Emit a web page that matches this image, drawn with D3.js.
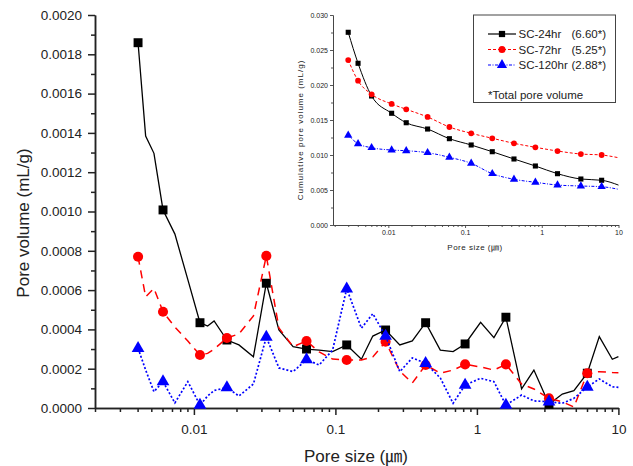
<!DOCTYPE html>
<meta charset="utf-8">
<script src="https://d3js.org/d3.v7.min.js"></script>
<style>
  body { margin: 0; background: #fff; }
  text { font-family: "Liberation Sans", Arial, "Noto Sans CJK KR", sans-serif; fill: #222; }
</style>
<div id="chart"></div>
<script>

// main plot: incremental pore volume vs pore size (um)
var poreSize = [0.00403, 0.00456, 0.00522, 0.00605, 0.00734, 0.00906, 0.01104, 0.0125, 0.01389, 0.01711,
                0.0208, 0.02634, 0.03249, 0.03988, 0.05024, 0.06249, 0.07684, 0.09555, 0.1202, 0.1527,
                0.1838, 0.2263, 0.2852, 0.3495, 0.4341, 0.5512, 0.6788, 0.8253, 1.062, 1.319,
                1.603, 2.07, 2.528, 3.232, 4.013, 4.848, 6.029, 7.328, 9.056, 10];
var vol24 = [0.001859, 0.001384, 0.001296, 0.001008, 0.000885, 0.000653, 0.000434, 0.000417, 0.000443, 0.000346,
             0.000321, 0.000261, 0.000635, 0.000397, 0.000312, 0.0003, 0.000295, 0.000287, 0.000321, 0.000248,
             0.000366, 0.000397, 0.000321, 0.000341, 0.000434, 0.000295, 0.000287, 0.000326, 0.000436, 0.000358,
             0.000462, 0.000097, 0.000193, 0.000019, 0.000071, 0.000088, 0.000177, 0.000363, 0.000248, 0.000261];
var vol72 = [0.00077, 0.000566, 0.000609, 0.00049, 0.000412, 0.000341, 0.00027, 0.000278, 0.0003, 0.000356,
             0.000377, 0.000468, 0.000774, 0.000407, 0.000312, 0.000341, 0.000285, 0.000249, 0.000244, 0.000244,
             0.00026, 0.000337, 0.000188, 0.000127, 0.000219, 0.000177, 0.000193, 0.000222, 0.000209, 0.000193,
             0.000222, 0.000122, 0.000097, 0.000049, 0.000031, 0.000005, 0.000177, 0.000185, 0.000181, 0.00018];
var vol120 = [0.000304, 0.000193, 0.000083, 0.000134, 0.000026, 0.000134, 0.000015, 0.000061, 0.000089, 0.000104,
              0.000061, 0.000122, 0.000361, 0.000204, 0.000185, 0.000246, 0.000219, 0.000295, 0.000607, 0.000406,
              0.00048, 0.000366, 0.000185, 0.000255, 0.000227, 0.000153, 0.000024, 0.000117, 0.000151, 0.000134,
              0.000015, 0.000066, 0.000036, 0.000032, 0.000024, 0.000049, 0.000107, 0.000148, 0.000108, 0.000105];
// points that carry a symbol
var markerIdx = [0, 3, 6, 9, 12, 15, 18, 21, 24, 27, 30, 33, 36];

// inset: cumulative pore volume
var cumSize = [0.003, 0.00403, 0.00605, 0.01104, 0.01711, 0.03249, 0.06249, 0.1202, 0.2263, 0.4341,
               0.8253, 1.603, 3.232, 6.029, 10];
var cum24 = [0.02753, 0.0231, 0.01843, 0.01596, 0.01461, 0.01371, 0.01233, 0.01143, 0.01047, 0.00943,
             0.00843, 0.00733, 0.00657, 0.00639, 0.0057];
var cum72 = [0.02357, 0.02061, 0.01867, 0.01729, 0.01653, 0.01543, 0.014, 0.0131, 0.01239, 0.01167,
             0.0111, 0.01057, 0.01014, 0.01, 0.00961];
var cum120 = [0.01281, 0.01161, 0.01104, 0.01071, 0.01061, 0.01033, 0.00967, 0.00881, 0.00733, 0.00653,
              0.0061, 0.00571, 0.00557, 0.00547, 0.0051];

var seriesNames = ["SC-24hr", "SC-72hr", "SC-120hr"];
var totalVol = ["(6.60*)", "(5.25*)", "(2.88*)"];
var yTicks = [0, 0.0002, 0.0004, 0.0006, 0.0008, 0.001, 0.0012, 0.0014, 0.0016, 0.0018, 0.002];
var yMinor = [0.0001, 0.0003, 0.0005, 0.0007, 0.0009, 0.0011, 0.0013, 0.0015, 0.0017, 0.0019];
var xTicks = [0.01, 0.1, 1, 10];
var cumTicks = [0, 0.005, 0.01, 0.015, 0.02, 0.025, 0.03];
var cumMinor = [0.0025, 0.0075, 0.0125, 0.0175, 0.0225, 0.0275];

var W = 633, H = 466;
var svg = d3.select("#chart").append("svg")
    .attr("width", W).attr("height", H);

var styles = [
  {color: "#000000", dash: null, width: 1.3, sym: d3.symbolSquare, size: 80, isize: 26},
  {color: "#ff0000", dash: "8,6", width: 1.5, sym: d3.symbolCircle, size: 80, isize: 26},
  {color: "#0000ff", dash: "2,2", width: 1.7, sym: d3.symbolTriangle, size: 70, isize: 30}
];

// ---------- main plot ----------
var x = d3.scaleLog().domain([0.002, 10]).range([95, 618.4]);
var y = d3.scaleLinear().domain([0, 0.002]).range([408, 15]);

var main = svg.append("g");

// axes
main.append("g").attr("transform", "translate(95,0)")
    .call(d3.axisLeft(y).tickValues(yTicks).tickFormat(d3.format(".4f")).tickSize(7).tickSizeOuter(0).tickPadding(6));
main.append("g").attr("transform", "translate(95,0)")
    .call(d3.axisLeft(y).tickValues(yMinor).tickFormat("").tickSize(4).tickSizeOuter(0));
main.append("g").attr("transform", "translate(0,408)")
    .call(d3.axisBottom(x).tickValues(xTicks).tickFormat(d => String(d)).tickSize(7).tickSizeOuter(0).tickPadding(9));
main.append("g").attr("transform", "translate(0,408)")
    .call(d3.axisBottom(x).tickValues(x.ticks().filter(d => xTicks.indexOf(d) < 0)).tickFormat("").tickSize(4).tickSizeOuter(0));
main.selectAll(".domain, .tick line").attr("stroke", "#222").attr("stroke-width", 1.5);
main.selectAll(".tick text").style("font-size", "13.5px").attr("fill", "#222");

main.append("text")
    .attr("x", 356).attr("y", 462).attr("text-anchor", "middle")
    .style("font-size", "17px").text("Pore size (㎛)");
main.append("text")
    .attr("transform", "translate(29,223) rotate(-90)").attr("text-anchor", "middle")
    .style("font-size", "17px").text("Pore volume (mL/g)");

var mainSeries = [vol24, vol72, vol120];
var line = d3.line().x(d => x(d[0])).y(d => y(d[1]));

mainSeries.forEach(function(vals, k) {
  var st = styles[k];
  var pts = poreSize.map((s, i) => [s, vals[i]]);
  main.append("path")
      .datum(pts)
      .attr("d", line)
      .attr("fill", "none")
      .attr("stroke", st.color)
      .attr("stroke-width", st.width)
      .attr("stroke-dasharray", st.dash);
  main.selectAll(".m" + k)
      .data(markerIdx.map(i => pts[i]))
      .enter().append("path")
      .attr("transform", d => "translate(" + x(d[0]) + "," + y(d[1]) + ")")
      .attr("d", d3.symbol().type(st.sym).size(st.size))
      .attr("fill", st.color);
});

// ---------- inset ----------
var xi = d3.scaleLog().domain([0.0019, 10]).range([333, 618.5]);
var yi = d3.scaleLinear().domain([0, 0.03]).range([225, 15]);

var inset = svg.append("g");
inset.append("g").attr("transform", "translate(333,0)")
    .call(d3.axisLeft(yi).tickValues(cumTicks).tickFormat(d3.format(".3f")).tickSize(3).tickSizeOuter(0).tickPadding(2));
inset.append("g").attr("transform", "translate(333,0)")
    .call(d3.axisLeft(yi).tickValues(cumMinor).tickFormat("").tickSize(2).tickSizeOuter(0));
inset.append("g").attr("transform", "translate(0,225)")
    .call(d3.axisBottom(xi).tickValues(xTicks).tickFormat(d => String(d)).tickSize(3).tickSizeOuter(0).tickPadding(2));
inset.append("g").attr("transform", "translate(0,225)")
    .call(d3.axisBottom(xi).tickValues(xi.ticks().filter(d => xTicks.indexOf(d) < 0)).tickFormat("").tickSize(2).tickSizeOuter(0));
inset.selectAll(".domain, .tick line").attr("stroke", "#444").attr("stroke-width", 0.9);
inset.selectAll(".tick text").style("font-size", "7px").attr("fill", "#333");

inset.append("text")
    .attr("x", 475).attr("y", 250).attr("text-anchor", "middle")
    .style("font-size", "8px").style("letter-spacing", "0.5px").text("Pore size (㎛)");
inset.append("text")
    .attr("transform", "translate(303,130) rotate(-90)").attr("text-anchor", "middle")
    .style("font-size", "8px").style("letter-spacing", "1px").text("Cumulative pore volume (mL/g)");

var insetDash = [null, "3,2", "3,1.5,1,1.5"];
var iline = d3.line().x(d => xi(d[0])).y(d => yi(d[1])).curve(d3.curveMonotoneX);

[cum24, cum72, cum120].forEach(function(vals, k) {
  var st = styles[k];
  var pts = cumSize.map((s, i) => [s, vals[i]]);
  inset.append("path")
      .datum(pts)
      .attr("d", iline)
      .attr("fill", "none")
      .attr("stroke", st.color)
      .attr("stroke-width", 1)
      .attr("stroke-dasharray", insetDash[k]);
  inset.selectAll(".im" + k)
      .data(pts.slice(0, pts.length - 1))
      .enter().append("path")
      .attr("transform", d => "translate(" + xi(d[0]) + "," + yi(d[1]) + ")")
      .attr("d", d3.symbol().type(st.sym).size(st.isize))
      .attr("fill", st.color);
});

// legend
var lg = inset.append("g");
lg.append("rect")
    .attr("x", 473.5).attr("y", 15).attr("width", 142).attr("height", 87.5)
    .attr("fill", "#fff").attr("stroke", "#444").attr("stroke-width", 1);
var rowY = [34, 49.5, 65];
seriesNames.forEach(function(name, k) {
  var st = styles[k];
  lg.append("line")
      .attr("x1", 488).attr("x2", 516).attr("y1", rowY[k]).attr("y2", rowY[k])
      .attr("stroke", st.color).attr("stroke-width", 1.2)
      .attr("stroke-dasharray", insetDash[k]);
  lg.append("path")
      .attr("transform", "translate(502," + rowY[k] + ")")
      .attr("d", d3.symbol().type(st.sym).size(st.isize * 1.5))
      .attr("fill", st.color);
  lg.append("text").attr("x", 518.5).attr("y", rowY[k] + 4)
      .style("font-size", "11.5px").text(name);
  lg.append("text").attr("x", 571.5).attr("y", rowY[k] + 4)
      .style("font-size", "11.5px").text(totalVol[k]);
});
lg.append("text").attr("x", 488).attr("y", 99)
    .style("font-size", "11.5px").text("*Total pore volume");

</script>
